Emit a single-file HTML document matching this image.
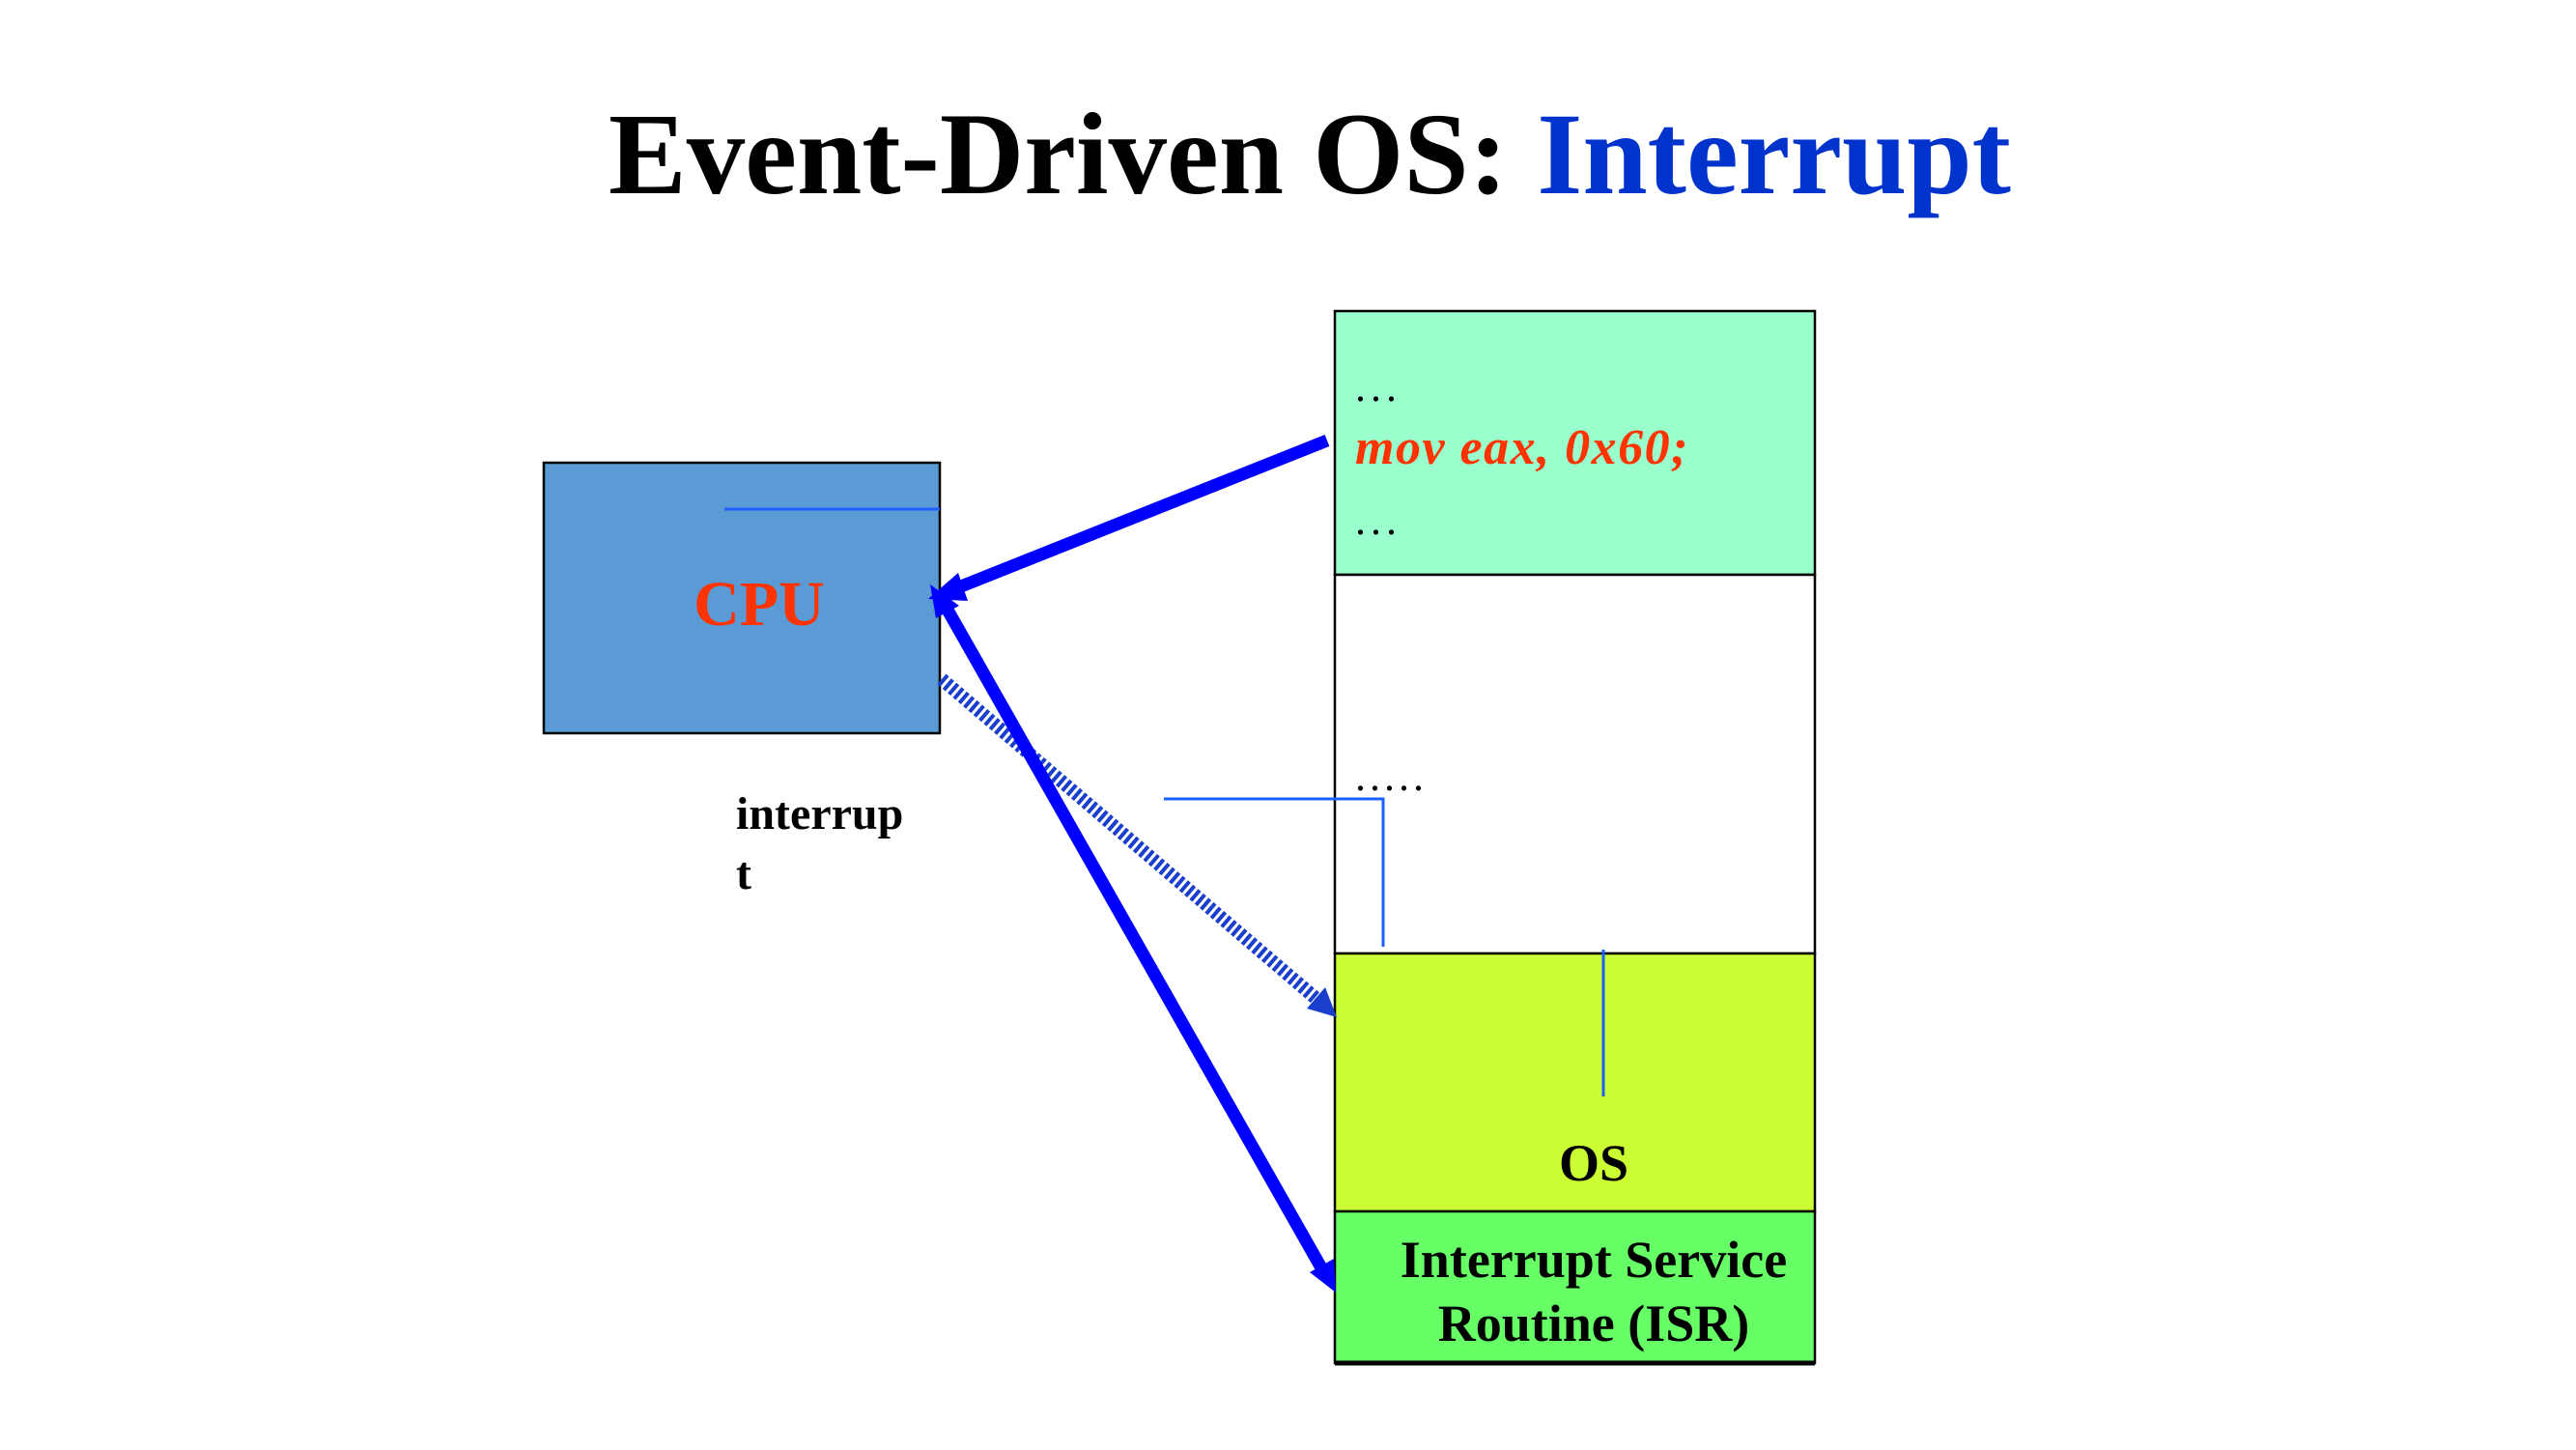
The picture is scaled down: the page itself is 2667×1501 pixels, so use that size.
<!DOCTYPE html>
<html><head><meta charset="utf-8"><style>
body{margin:0;background:#fff;}
</style></head><body>
<svg width="2667" height="1496" xmlns="http://www.w3.org/2000/svg" font-family="Liberation Serif, serif">
<rect width="2667" height="1496" fill="#fff"/>
<text x="1356" y="200" text-anchor="middle" font-size="121" font-weight="bold" fill="#000">Event-Driven OS: <tspan fill="#0033cc">Interrupt</tspan></text>
<rect x="563" y="479" width="410" height="280" fill="#5b9bd5" stroke="#000" stroke-width="2.5"/>
<line x1="750" y1="527" x2="973" y2="527" stroke="#1f5fff" stroke-width="3"/>
<text x="786" y="647" text-anchor="middle" font-size="66" font-weight="bold" fill="#ff3300">CPU</text>
<rect x="1382" y="322" width="497" height="273" fill="#99ffcc" stroke="#000" stroke-width="2.5"/>
<rect x="1382" y="595" width="497" height="392" fill="#fff" stroke="#000" stroke-width="2.5"/>
<rect x="1382" y="987" width="497" height="267" fill="#ccff33" stroke="#000" stroke-width="2.5"/>
<rect x="1382" y="1254" width="497" height="157" fill="#66ff66" stroke="#000" stroke-width="2.5"/>
<line x1="1382" y1="1411" x2="1879" y2="1411" stroke="#000" stroke-width="5"/>
<text x="1403" y="415" font-size="44" letter-spacing="5" fill="#000">...</text>
<text x="1403" y="480" font-size="52" font-style="italic" font-weight="bold" letter-spacing="1.5" fill="#ff3300">mov eax, 0x60;</text>
<text x="1403" y="553" font-size="44" letter-spacing="5" fill="#000">...</text>
<text x="1403" y="818" font-size="44" letter-spacing="4" fill="#000">.....</text>
<text x="762" y="858" font-size="48" font-weight="bold" fill="#000">interrup</text>
<text x="762" y="920" font-size="48" font-weight="bold" fill="#000">t</text>
<text x="1650" y="1222" text-anchor="middle" font-size="54" font-weight="bold" fill="#000">OS</text>
<text x="1650" y="1322" text-anchor="middle" font-size="54" font-weight="bold" fill="#000">Interrupt Service</text>
<text x="1650" y="1388" text-anchor="middle" font-size="54" font-weight="bold" fill="#000">Routine (ISR)</text>
<polyline points="1205,827 1432,827 1432,980" fill="none" stroke="#1f5fff" stroke-width="3"/>
<line x1="1660" y1="983" x2="1660" y2="1135" stroke="#1f5fff" stroke-width="3"/>
<line x1="975" y1="703" x2="1370" y2="1040" stroke="#1a3fcc" stroke-width="14" stroke-dasharray="4,3"/>
<polygon points="1384,1053 1353,1044 1372,1022" fill="#1a3fcc"/>
<line x1="1374" y1="456" x2="990" y2="609" stroke="#0000ff" stroke-width="13"/>
<polygon points="961,620 992,593 1002,622" fill="#0000ff"/>
<line x1="978" y1="626" x2="1370" y2="1316" stroke="#0000ff" stroke-width="13"/>
<polygon points="963,605 993,627 969,640" fill="#0000ff"/>
<polygon points="1383,1338 1356,1317 1381,1303" fill="#0000ff"/>
</svg>
</body></html>
